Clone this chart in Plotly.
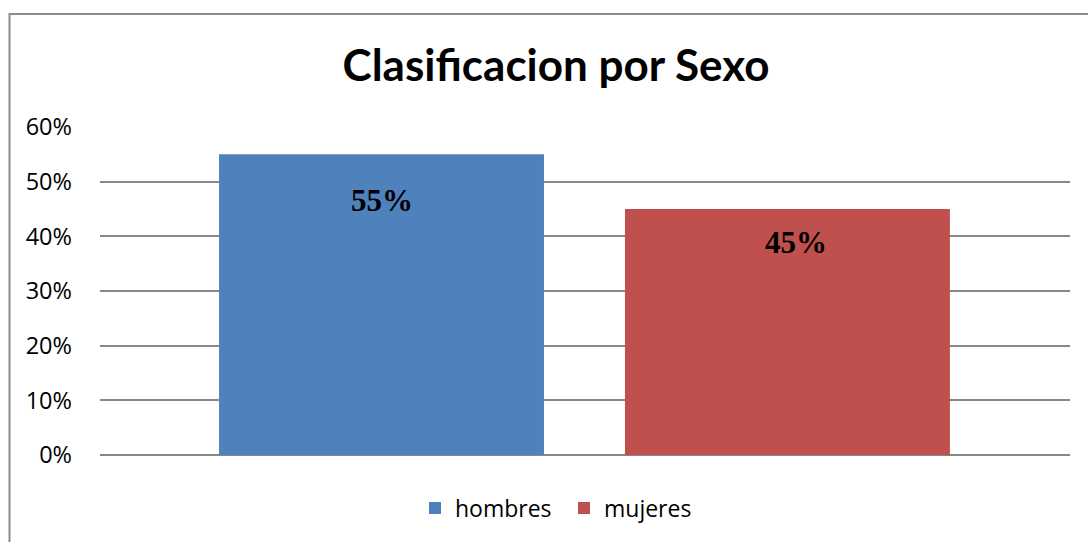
import plotly.graph_objects as go

# ---- data ----
categoria = ["Sexo"]
series = ["hombres", "mujeres"]
valores = [0.55, 0.45]
etiquetas = ["55%", "45%"]
colores = ["#4F81BD", "#C0504D"]
tick_vals = [0, 0.1, 0.2, 0.3, 0.4, 0.5, 0.6]
tick_text = ["0%", "10%", "20%", "30%", "40%", "50%", "60%"]
titulo = "Clasificacion por Sexo"

# ---- layout geometry (pixels) ----
W, H = 1088, 542
L, R, T, B = 100, 18, 127, 87
pw, ph = W - L - R, H - T - B

def px_x(px):
    return (px - L) / pw

def px_y(py):
    return (H - B - py) / ph

bar_offsets = [-0.3773, 0.0412]
bar_width = 0.335
label_shift = [-46, -33]
label_xshift = [1, 9]

fig = go.Figure()
for i, s in enumerate(series):
    fig.add_trace(go.Bar(
        name=s, x=categoria, y=[valores[i]],
        marker=dict(color=colores[i], line=dict(width=0)),
        offset=bar_offsets[i], width=bar_width,
        hoverinfo="skip",
    ))
    fig.add_annotation(
        x=categoria[0], y=valores[i], xref="x", yref="y",
        text="<b>%s</b>" % etiquetas[i], showarrow=False,
        xshift=(bar_offsets[i] + bar_width / 2) * pw + label_xshift[i],
        yshift=label_shift[i], yanchor="middle",
        font=dict(family="Liberation Serif", size=31, color="#000000"),
    )

fig.update_layout(
    width=W, height=H,
    margin=dict(l=L, r=R, t=T, b=B),
    paper_bgcolor="white", plot_bgcolor="white",
    barmode="overlay",
    title=dict(text="<b>%s</b>" % titulo, xref="container", yref="container",
               x=556 / W, y=1 - 66 / H, xanchor="center", yanchor="middle",
               font=dict(family="Lato", size=44, color="#000000")),
    xaxis=dict(range=[-0.5, 0.5], showticklabels=False, showgrid=False,
               zeroline=False, showline=False, ticks=""),
    yaxis=dict(range=[0, 0.6], tickvals=tick_vals, ticktext=tick_text,
               showgrid=True, gridcolor="#888888", gridwidth=1.5,
               zeroline=True, zerolinecolor="#888888", zerolinewidth=1.5,
               showline=False, ticks="", ticklabelstandoff=27,
               tickfont=dict(family="Open Sans", size=23.5, color="#000000")),
    legend=dict(orientation="h", x=px_x(564), xanchor="center",
                y=px_y(508), yanchor="middle",
                font=dict(family="Open Sans", size=23, color="#000000"),
                itemwidth=30, entrywidth=104, entrywidthmode="pixels",
                traceorder="normal"),
    showlegend=True,
)

# chart frame (left and top edges visible)
fig.add_shape(type="rect", xref="paper", yref="paper",
              x0=px_x(9.5), y0=px_y(560), x1=px_x(1100), y1=px_y(14),
              line=dict(color="#8C8C8C", width=2), fillcolor="rgba(0,0,0,0)",
              layer="below")

fig.write_html("out.html", config={"displayModeBar": False},
               post_script="document.body.style.margin='0';document.body.style.overflow='hidden';")
